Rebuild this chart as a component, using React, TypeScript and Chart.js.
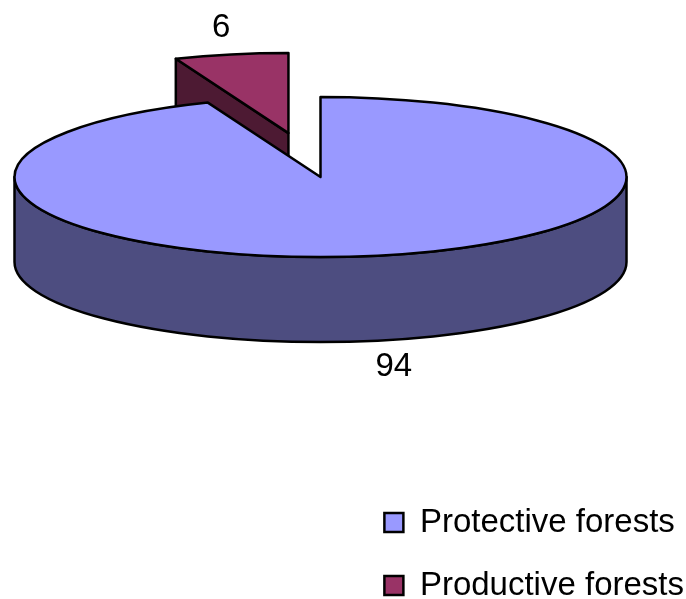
import React, { useEffect, useRef } from "react";
import { Chart, registerables } from "chart.js";

Chart.register(...registerables);

const categories = ["Protective forests", "Productive forests"];
const shares = [94, 6];
const faceColours = ["#9999FF", "#993366"];
const wallColours = ["#4D4D80", "#4D1A33"];

const PIE_CENTRE = { x: 320.5, y: 177 };
const PIE_RADIUS = 306;
const SQUASH = 80 / 306;
const WALL_DEPTH = 85;
const EXPLODE = 684;
const LABEL_SHIFT = [
  { x: 16, y: 26 },
  { x: -10, y: -27 },
];
const FONT = '"Liberation Sans", Arial, sans-serif';

// Draws the pie as a tilted disc: each slice gets its visible walls, then is capped with its face.
const tiltedDisc = {
  id: "tiltedDisc",
  beforeDatasetsDraw(chart: any) {
    const { ctx } = chart;
    const arcs = chart.getDatasetMeta(0).data as any[];
    const tilt = (arc: any) => {
      ctx.translate(PIE_CENTRE.x, PIE_CENTRE.y);
      ctx.scale(1, SQUASH);
      ctx.translate(-arc.x, -arc.y);
    };
    const shiftOf = (arc: any) => {
      const mid = (arc.startAngle + arc.endAngle) / 2;
      const d = (arc.options.offset || 0) / 4;
      return { x: Math.cos(mid) * d, y: Math.sin(mid) * d };
    };
    const project = (arc: any, angle: number, r: number) => {
      const s = shiftOf(arc);
      return {
        x: PIE_CENTRE.x + s.x + Math.cos(angle) * r,
        y: PIE_CENTRE.y + (s.y + Math.sin(angle) * r) * SQUASH,
      };
    };
    const face = (arc: any) => {
      const s = shiftOf(arc);
      ctx.save();
      tilt(arc);
      ctx.beginPath();
      ctx.moveTo(arc.x + s.x, arc.y + s.y);
      ctx.arc(arc.x + s.x, arc.y + s.y, arc.outerRadius, arc.startAngle, arc.endAngle);
      ctx.closePath();
      ctx.restore();
    };
    const ink = () => {
      ctx.strokeStyle = "#000";
      ctx.lineWidth = 2.5;
      ctx.lineJoin = "round";
      ctx.stroke();
    };
    // Outer wall of the whole-disc slice: the front half of the rim, extruded downward.
    const rimWall = (arc: any) => {
      const s = shiftOf(arc);
      ctx.save();
      ctx.beginPath();
      ctx.save();
      tilt(arc);
      ctx.arc(arc.x + s.x, arc.y + s.y, arc.outerRadius, 0, Math.PI);
      ctx.restore();
      ctx.translate(0, WALL_DEPTH);
      tilt(arc);
      ctx.arc(arc.x + s.x, arc.y + s.y, arc.outerRadius, Math.PI, 0, true);
      ctx.closePath();
      ctx.restore();
    };
    // Inner wall of the pulled-out slice: the cut from rim to apex, extruded downward.
    const cutWall = (arc: any) => {
      const a = project(arc, arc.startAngle, arc.outerRadius);
      const b = project(arc, 0, 0);
      ctx.beginPath();
      ctx.moveTo(a.x, a.y);
      ctx.lineTo(b.x, b.y);
      ctx.lineTo(b.x, b.y + WALL_DEPTH);
      ctx.lineTo(a.x, a.y + WALL_DEPTH);
      ctx.closePath();
    };
    const drawSlice = (i: number) => {
      const arc = arcs[i];
      if (i === 0) rimWall(arc);
      else cutWall(arc);
      ctx.fillStyle = wallColours[i];
      ctx.fill();
      ink();
      face(arc);
      ctx.fillStyle = arc.options.backgroundColor;
      ctx.fill();
      ink();
    };
    // The slice pulled away from the disc sits behind it, so it goes first.
    drawSlice(1);
    drawSlice(0);

    ctx.save();
    ctx.fillStyle = "#000";
    ctx.font = `33px ${FONT}`;
    ctx.textAlign = "center";
    ctx.textBaseline = "middle";
    arcs.forEach((arc, i) => {
      const mid = (arc.startAngle + arc.endAngle) / 2;
      const p = project(arc, mid, arc.outerRadius);
      const below = Math.sin(mid) > 0 ? WALL_DEPTH : 0;
      ctx.fillText(String(shares[i]), p.x + LABEL_SHIFT[i].x, p.y + below + LABEL_SHIFT[i].y);
    });
    ctx.restore();
    return false;
  },
};

export default function App() {
  const ref = useRef<HTMLCanvasElement>(null);
  useEffect(() => {
    const chart = new Chart(ref.current!, {
      type: "pie",
      data: {
        labels: categories,
        datasets: [
          {
            data: shares,
            backgroundColor: faceColours,
            borderWidth: 0,
            offset: [0, EXPLODE],
          },
        ],
      },
      options: {
        responsive: false,
        animation: false,
        radius: PIE_RADIUS,
        cutout: "0%",
        rotation: 0,
        layout: { padding: { right: -8, bottom: -33 } },
        plugins: {
          tooltip: { enabled: false },
          legend: {
            position: "right",
            align: "end",
            labels: {
              boxWidth: 19,
              boxHeight: 19,
              padding: 30,
              color: "#000",
              font: { family: FONT, size: 33 },
              generateLabels: () =>
                categories.map((text, i) => ({
                  text,
                  index: i,
                  fillStyle: faceColours[i],
                  strokeStyle: "#000",
                  lineWidth: 2.5,
                  hidden: false,
                })),
            },
          },
        },
      } as any,
      plugins: [tiltedDisc],
    });
    return () => chart.destroy();
  }, []);
  return (
    <div style={{ position: "absolute", left: 0, top: 0, width: 686, height: 599, background: "#fff" }}>
      <canvas ref={ref} width={686} height={599} style={{ display: "block" }} />
    </div>
  );
}
